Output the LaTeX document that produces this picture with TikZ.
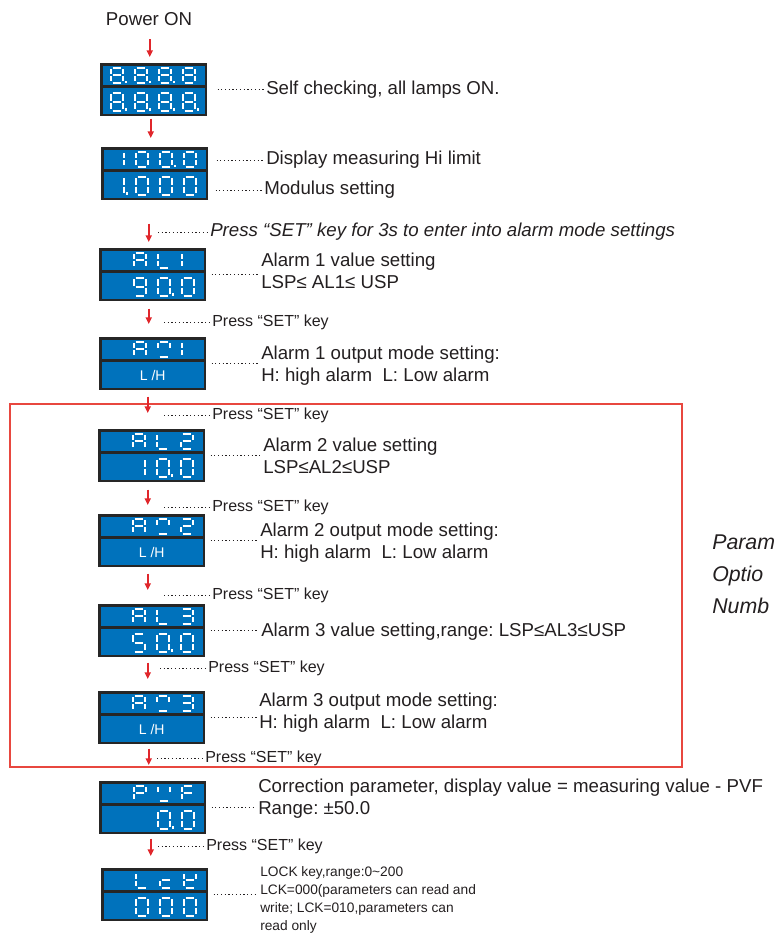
\documentclass[tikz,border=0pt]{standalone}
\usepackage{fontspec}
\setmainfont{Liberation Sans}
\usetikzlibrary{arrows.meta}
\frenchspacing

\definecolor{lcdblue}{HTML}{0072BC}
\definecolor{lcdframe}{HTML}{262626}
\definecolor{flowred}{HTML}{E0262B}
\definecolor{boxred}{HTML}{E8473F}
\definecolor{inkgray}{HTML}{231F20}

\tikzset{
  lcd/.style={fill=lcdframe, inner sep=0pt, minimum width=80.25pt, minimum height=39.75pt, anchor=north west},
  segline/.style={white, line width=1.5pt},
  flow/.style={flowred, line width=1.1pt, -{Triangle[length=5pt,width=4.6pt]}},
  leader/.style={inkgray, line width=0.6pt, dash pattern=on 0.9pt off 1.9pt},
  desc/.style={anchor=west, inner sep=1.5pt, align=left, text=inkgray, font=\fontsize{14}{16.5}\selectfont},
  presstxt/.style={anchor=west, inner sep=1.5pt, text=inkgray, font=\fontsize{12}{14}\selectfont},
  lhtxt/.style={text=white, inner sep=0pt, font=\fontsize{10.5}{12}\selectfont},
}

% one 7-segment glyph: display, slot, top offset, height, segments
\newcommand\lcdglyph[5]{%
  \begin{scope}[shift={(#1.north west)}, shift={(11+24*#2,#3)}]
    \coordinate (a1) at (1.6,0);  \coordinate (a2) at (10.4,0);
    \coordinate (b1) at (12,1.6); \coordinate (b2) at (12,#4/2-1);
    \coordinate (c1) at (12,#4/2+1); \coordinate (c2) at (12,#4-1.6);
    \coordinate (d1) at (1.6,#4); \coordinate (d2) at (10.4,#4);
    \coordinate (e1) at (0,#4/2+1); \coordinate (e2) at (0,#4-1.6);
    \coordinate (f1) at (0,1.6);  \coordinate (f2) at (0,#4/2-1);
    \coordinate (g1) at (1.6,#4/2); \coordinate (g2) at (10.4,#4/2);
    \foreach \sg in {#5} {\draw[segline] (\sg1) -- (\sg2);}
  \end{scope}}
\newcommand\topg[3]{\lcdglyph{#1}{#2}{4.5}{15.5}{#3}}
\newcommand\botg[3]{\lcdglyph{#1}{#2}{29.5}{18}{#3}}
\newcommand\lcddot[3]{\fill[white] ([shift={(11+24*#2+14,#3)}]#1.north west) rectangle ++(2.2,-2.2);}
% display frame with two blue rows: name, left, top
\newcommand\lcd[3]{%
  \node[lcd] (#1) at (#2,#3) {};
  \fill[lcdblue] ([shift={(2.5,2.5)}]#1.north west) rectangle ([shift={(-2.5,22)}]#1.north east);
  \fill[lcdblue] ([shift={(2.5,24.5)}]#1.north west) rectangle ([shift={(-2.5,-2.5)}]#1.south east);}

\begin{document}
\begin{tikzpicture}[x=0.75pt, y=-0.75pt]
  \useasboundingbox (0,0) rectangle (774,936);

  % displays
  \lcd{lcdon}{100}{63}
  \foreach \k in {0,...,3} {\topg{lcdon}{\k}{a,b,c,d,e,f,g} \botg{lcdon}{\k}{a,b,c,d,e,f,g} \lcddot{lcdon}{\k}{47.5}}
  \foreach \k in {0,1,2} {\lcddot{lcdon}{\k}{20}}

  \lcd{lcdhi}{101}{147}
  \topg{lcdhi}{0}{b,c} \topg{lcdhi}{1}{a,b,c,d,e,f} \topg{lcdhi}{2}{a,b,c,d,e,f} \topg{lcdhi}{3}{a,b,c,d,e,f}
  \lcddot{lcdhi}{2}{20}
  \botg{lcdhi}{0}{b,c} \botg{lcdhi}{1}{a,b,c,d,e,f} \botg{lcdhi}{2}{a,b,c,d,e,f} \botg{lcdhi}{3}{a,b,c,d,e,f}
  \lcddot{lcdhi}{0}{47.5}

  \lcd{lcdal1}{99}{248}
  \topg{lcdal1}{1}{a,b,c,e,f,g} \topg{lcdal1}{2}{d,e,f} \topg{lcdal1}{3}{e,f}
  \botg{lcdal1}{1}{a,b,c,d,f,g} \botg{lcdal1}{2}{a,b,c,d,e,f} \botg{lcdal1}{3}{a,b,c,d,e,f}
  \lcddot{lcdal1}{2}{47.5}

  \lcd{lcdam1}{99}{337}
  \topg{lcdam1}{1}{a,b,c,e,f,g} \topg{lcdam1}{2}{a,b,f,d} \topg{lcdam1}{3}{e,f}
  \node[lhtxt] (lham1) at ([shift={(0,38)}]lcdam1.north) {L /H};

  \lcd{lcdal2}{98}{429}
  \topg{lcdal2}{1}{a,b,c,e,f,g} \topg{lcdal2}{2}{d,e,f} \topg{lcdal2}{3}{a,b,g,e,d}
  \botg{lcdal2}{1}{b,c} \botg{lcdal2}{2}{a,b,c,d,e,f} \botg{lcdal2}{3}{a,b,c,d,e,f}
  \lcddot{lcdal2}{2}{47.5}

  \lcd{lcdam2}{98}{514}
  \topg{lcdam2}{1}{a,b,c,e,f,g} \topg{lcdam2}{2}{a,b,f,d} \topg{lcdam2}{3}{a,b,g,e,d}
  \node[lhtxt] (lham2) at ([shift={(0,38)}]lcdam2.north) {L /H};

  \lcd{lcdal3}{98}{604}
  \topg{lcdal3}{1}{a,b,c,e,f,g} \topg{lcdal3}{2}{d,e,f} \topg{lcdal3}{3}{a,b,g,c,d}
  \botg{lcdal3}{1}{a,f,g,c,d} \botg{lcdal3}{2}{a,b,c,d,e,f} \botg{lcdal3}{3}{a,b,c,d,e,f}
  \lcddot{lcdal3}{2}{47.5}

  \lcd{lcdam3}{98}{691}
  \topg{lcdam3}{1}{a,b,c,e,f,g} \topg{lcdam3}{2}{a,b,f,d} \topg{lcdam3}{3}{a,b,g,c,d}
  \node[lhtxt] (lham3) at ([shift={(0,38)}]lcdam3.north) {L /H};

  \lcd{lcdpvf}{99}{781}
  \topg{lcdpvf}{1}{a,b,f,g,e} \topg{lcdpvf}{2}{f,b,d} \topg{lcdpvf}{3}{a,f,g,e}
  \botg{lcdpvf}{2}{a,b,c,d,e,f} \botg{lcdpvf}{3}{a,b,c,d,e,f}
  \lcddot{lcdpvf}{2}{47.5}

  \lcd{lcdlck}{101}{868}
  \topg{lcdlck}{1}{d,e,f} \topg{lcdlck}{2}{g,e,d} \topg{lcdlck}{3}{b,f,g,e,d}
  \foreach \k in {1,2,3} {\botg{lcdlck}{\k}{a,b,c,d,e,f}}

  % texts
  \node[text=inkgray, inner sep=0pt, font=\fontsize{14}{16}\selectfont] (power) at (149,19.5) {Power ON};
  \node[desc] (selftxt) at (264,90) {Self checking, all lamps ON.};
  \node[desc] (hitxt) at (264,160) {Display measuring Hi limit};
  \node[desc] (modtxt) at (262,190) {Modulus setting};
  \node[desc, font=\fontsize{14}{16.5}\selectfont\itshape] (entertxt) at (208,232) {Press “SET” key for 3s to enter into alarm mode settings};
  \node[desc] (al1txt) at (259,271) {Alarm 1 value setting\\LSP≤ AL1≤ USP};
  \node[presstxt] (press1) at (210,322) {Press “SET” key};
  \node[desc] (am1txt) at (259,366) {Alarm 1 output mode setting:\\H: high alarm\ \ L: Low alarm};
  \node[presstxt] (press2) at (210,415) {Press “SET” key};
  \node[desc] (al2txt) at (261,456) {Alarm 2 value setting\\LSP≤AL2≤USP};
  \node[presstxt] (press3) at (210,507) {Press “SET” key};
  \node[desc] (am2txt) at (258,543) {Alarm 2 output mode setting:\\H: high alarm\ \ L: Low alarm};
  \node[presstxt] (press4) at (210,595) {Press “SET” key};
  \node[desc] (al3txt) at (259,632) {Alarm 3 value setting,range: LSP≤AL3≤USP};
  \node[presstxt] (press5) at (206,668) {Press “SET” key};
  \node[desc] (am3txt) at (257,713) {Alarm 3 output mode setting:\\H: high alarm\ \ L: Low alarm};
  \node[presstxt] (press6) at (203,758) {Press “SET” key};
  \node[desc] (pvftxt) at (256,799) {Correction parameter, display value = measuring value - PVF\\Range: ±50.0};
  \node[presstxt] (press7) at (204,846) {Press “SET” key};
  \node[desc, font=\fontsize{10.3}{13.5}\selectfont] (lcktxt) at (258,900) {LOCK key,range:0\textasciitilde200\\LCK=000(parameters can read and\\write; LCK=010,parameters can\\read only};
  \node[anchor=west, inner sep=0pt, align=left, text=inkgray, font=\fontsize{16}{24}\selectfont\itshape] (sidenote) at (712,574) {Param\\Optio\\Numb};

  % red frame round the alarm 2/3 steps
  \draw[boxred, line width=0.8pt] (10,404) rectangle (682,767);

  % flow arrows
  \foreach \from/\to/\a/\b in {power/lcdon/13/6, lcdon/lcdhi/2/9, lcdhi/lcdal1/23/6, lcdal1/lcdam1/7/13,
      lcdam1/lcdal2/6/16, lcdal2/lcdam2/7/9, lcdam2/lcdal3/6/14, lcdal3/lcdam3/5/12,
      lcdam3/lcdpvf/4/16, lcdpvf/lcdlck/4/12} {
    \path ([shift={(-4,-\b)}]\to.north) coordinate (e);
    \path (e |- \from.south) coordinate (s0);
    \path ([shift={(0,\a)}]s0) coordinate (s);
    \draw[flow] (s) -- (e);
  }

  % dotted leaders
  \draw[leader] ([shift={(10,0)}]lcdon.east) -- (lcdon.east -| selftxt.west);
  \draw[leader] (lcdhi.east |- hitxt.west) ++(8,0) -- (hitxt.west);
  \draw[leader] (lcdhi.east |- modtxt.west) ++(7,0) -- (modtxt.west);
  \foreach \d/\t in {lcdal1/al1txt, lcdam1/am1txt, lcdal2/al2txt, lcdam2/am2txt, lcdal3/al3txt, lcdam3/am3txt, lcdpvf/pvftxt, lcdlck/lcktxt}
    \draw[leader] ([shift={(5,0)}]\d.east) -- (\d.east -| \t.west);
  \draw[leader] ([shift={(-50,0)}]entertxt.west) -- (entertxt.west);
  \foreach \p in {press1,press2,press3,press4,press5,press6,press7}
    \draw[leader] ([shift={(-46,0)}]\p.west) -- (\p.west);
\end{tikzpicture}
\end{document}
